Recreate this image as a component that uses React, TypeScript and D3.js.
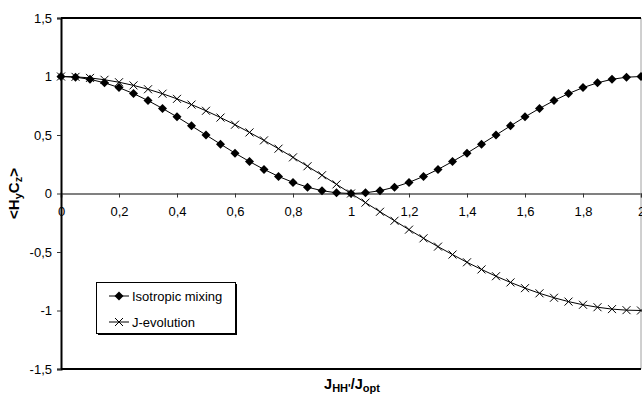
import React, { useEffect, useRef } from "react"
import * as d3 from "d3"

// x values: J_HH'/J_opt, 0 .. 2 in steps of 0.05
const ratio = [
  0, 0.05, 0.1, 0.15, 0.2, 0.25, 0.3, 0.35, 0.4, 0.45, 0.5, 0.55, 0.6, 0.65, 0.7, 0.75, 0.8, 0.85, 0.9, 0.95, 1,
  1.05, 1.1, 1.15, 1.2, 1.25, 1.3, 1.35, 1.4, 1.45, 1.5, 1.55, 1.6, 1.65, 1.7, 1.75, 1.8, 1.85, 1.9, 1.95, 2,
]

const isotropicMixing = [
  1, 0.994, 0.976, 0.946, 0.905, 0.854, 0.794, 0.727, 0.655, 0.578, 0.5, 0.422, 0.345, 0.273, 0.206, 0.146, 0.095,
  0.054, 0.024, 0.006, 0, 0.006, 0.024, 0.054, 0.095, 0.146, 0.206, 0.273, 0.345, 0.422, 0.5, 0.578, 0.655, 0.727,
  0.794, 0.854, 0.905, 0.946, 0.976, 0.994, 1,
]

const jEvolution = [
  1, 0.997, 0.988, 0.972, 0.951, 0.924, 0.891, 0.853, 0.809, 0.76, 0.707, 0.649, 0.588, 0.522, 0.454, 0.383, 0.309,
  0.233, 0.156, 0.078, 0, -0.078, -0.156, -0.233, -0.309, -0.383, -0.454, -0.522, -0.588, -0.649, -0.707, -0.76,
  -0.809, -0.853, -0.891, -0.924, -0.951, -0.972, -0.988, -0.997, -1,
]

const xTicks = [0, 0.2, 0.4, 0.6, 0.8, 1, 1.2, 1.4, 1.6, 1.8, 2]
const yTicks = [-1.5, -1, -0.5, 0, 0.5, 1, 1.5]
const seriesNames = ["Isotropic mixing", "J-evolution"]

const fmt = (d: number) => String(d).replace(".", ",")

function Chart() {
  const svgRef = useRef<SVGSVGElement | null>(null)

  useEffect(() => {
    const width = 642
    const height = 397
    const margin = { top: 18, right: 1, bottom: 28, left: 61 }
    const font = "'Liberation Sans', Arial, sans-serif"

    const svg = d3.select(svgRef.current)
    svg.selectAll("*").remove()
    svg.attr("width", width).attr("height", height)

    const x = d3.scaleLinear().domain([0, 2]).range([margin.left, width - margin.right])
    const y = d3.scaleLinear().domain([-1.5, 1.5]).range([height - margin.bottom, margin.top])

    // plot frame
    svg.append("line").attr("x1", x(2)).attr("x2", x(2)).attr("y1", y(1.5)).attr("y2", y(-1.5))
      .attr("stroke", "#a0a0a0").attr("stroke-width", 1)
    svg.append("line").attr("x1", x(0)).attr("x2", x(2)).attr("y1", y(1.5)).attr("y2", y(1.5))
      .attr("stroke", "#000").attr("stroke-width", 2)
    svg.append("line").attr("x1", x(0)).attr("x2", x(2)).attr("y1", y(-1.5)).attr("y2", y(-1.5))
      .attr("stroke", "#000").attr("stroke-width", 2)

    // x axis through zero
    const xAxis = svg.append("g")
      .attr("transform", `translate(0,${y(0)})`)
      .call(d3.axisBottom(x).tickValues(xTicks).tickFormat((d) => fmt(d as number)).tickSize(4).tickPadding(9))
    xAxis.select(".domain").attr("stroke", "#808080").attr("stroke-width", 2)
    xAxis.selectAll(".tick line").attr("stroke", "#333")
    xAxis.selectAll("text").style("font-family", font).style("font-size", "13px").attr("fill", "#000")

    // y axis
    const yAxis = svg.append("g")
      .attr("transform", `translate(${x(0)},0)`)
      .call(d3.axisLeft(y).tickValues(yTicks).tickFormat((d) => fmt(d as number)).tickSize(4).tickPadding(5))
    yAxis.select(".domain").attr("stroke", "#000").attr("stroke-width", 2)
    yAxis.selectAll(".tick line").attr("stroke", "#333")
    yAxis.selectAll("text").style("font-family", font).style("font-size", "13px").attr("fill", "#000")

    const line = d3.line<number>().x((_, i) => x(ratio[i])).y((d) => y(d))

    svg.append("path").datum(jEvolution).attr("d", line).attr("fill", "none").attr("stroke", "#000").attr("stroke-width", 1)
    svg.append("path").datum(isotropicMixing).attr("d", line).attr("fill", "none").attr("stroke", "#000").attr("stroke-width", 1)

    const cross = (sel: d3.Selection<SVGGElement, unknown, null, undefined>, cx: number, cy: number) => {
      sel.append("path")
        .attr("d", `M${cx - 4},${cy - 4}L${cx + 4},${cy + 4}M${cx - 4},${cy + 4}L${cx + 4},${cy - 4}`)
        .attr("stroke", "#000").attr("stroke-width", 1).attr("fill", "none")
    }
    const diamond = (sel: d3.Selection<SVGGElement, unknown, null, undefined>, cx: number, cy: number) => {
      sel.append("path")
        .attr("d", `M${cx},${cy - 4.5}L${cx + 4.5},${cy}L${cx},${cy + 4.5}L${cx - 4.5},${cy}Z`)
        .attr("fill", "#000")
    }

    const crosses = svg.append("g")
    jEvolution.forEach((d, i) => cross(crosses, x(ratio[i]), y(d)))
    const diamonds = svg.append("g")
    isotropicMixing.forEach((d, i) => diamond(diamonds, x(ratio[i]), y(d)))

    // legend
    const lg = svg.append("g")
    lg.append("rect").attr("x", 98).attr("y", 284).attr("width", 139).attr("height", 51).attr("fill", "#000")
    lg.append("rect").attr("x", 96.5).attr("y", 282.5).attr("width", 139).attr("height", 51)
      .attr("fill", "#fff").attr("stroke", "#000").attr("stroke-width", 1)
    seriesNames.forEach((name, i) => {
      const ly = 296 + i * 26
      lg.append("line").attr("x1", 109).attr("x2", 129).attr("y1", ly).attr("y2", ly).attr("stroke", "#000")
      if (i === 0) diamond(lg, 119, ly)
      else cross(lg, 119, ly)
      lg.append("text").attr("x", 132).attr("y", ly).attr("dy", "0.35em")
        .style("font-family", font).style("font-size", "13px").text(name)
    })

    // axis titles
    const xt = svg.append("text").attr("x", 352).attr("y", 389).attr("text-anchor", "middle")
      .style("font-family", font).style("font-size", "14.5px").style("font-weight", "bold")
    xt.append("tspan").text("J")
    xt.append("tspan").attr("dy", 3).style("font-size", "11px").text("HH'")
    xt.append("tspan").attr("dy", -3).text("/J")
    xt.append("tspan").attr("dy", 3).style("font-size", "11px").text("opt")

    const yt = svg.append("text").attr("transform", `translate(19,${y(0)}) rotate(-90)`).attr("text-anchor", "middle")
      .style("font-family", font).style("font-size", "15px").style("font-weight", "bold")
    yt.append("tspan").text("<H")
    yt.append("tspan").attr("dy", 3).style("font-size", "11px").text("y")
    yt.append("tspan").attr("dy", -3).text("C")
    yt.append("tspan").attr("dy", 3).style("font-size", "11px").text("z")
    yt.append("tspan").attr("dy", -3).text(">")
  }, [])

  return <svg ref={svgRef} style={{ position: "absolute", left: 0, top: 0, display: "block" }} />
}

export default function App() {
  return <Chart />
}
